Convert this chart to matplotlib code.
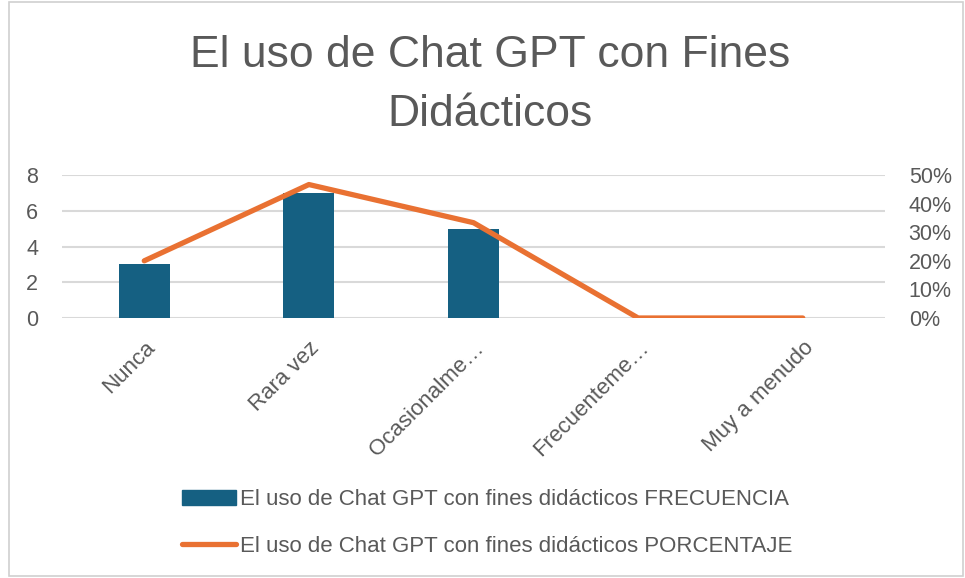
import matplotlib.pyplot as plt
from matplotlib.patches import Rectangle, Patch
from matplotlib.lines import Line2D
from matplotlib.ticker import FuncFormatter, MultipleLocator

plt.rcParams['font.family'] = ['Liberation Sans', 'DejaVu Sans']

# ===== Data =====
categories = ['Nunca', 'Rara vez', 'Ocasionalme…', 'Frecuenteme…', 'Muy a menudo']
frecuencia = [3, 7, 5, 0, 0]
porcentaje = [0.20, 0.4667, 0.3333, 0.0, 0.0]

title = 'El uso de Chat GPT con Fines\nDidácticos'
label_freq = 'El uso de Chat GPT con fines didácticos FRECUENCIA'
label_pct = 'El uso de Chat GPT con fines didácticos PORCENTAJE'

bar_color = '#156082'
line_color = '#E97132'
text_color = '#595959'
grid_color = '#D9D9D9'

fig = plt.figure(figsize=(9.65, 5.78), dpi=100)
fig.patches.append(Rectangle((9 / 965, 2 / 578), 954 / 965, 574 / 578,
                             transform=fig.transFigure, fill=False,
                             edgecolor='#D0D0D0', linewidth=1.2))

ax = fig.add_axes([0.0642, 0.4498, 0.853, 0.2474])
x = list(range(len(categories)))
ax.bar(x, frecuencia, width=0.31, color=bar_color, zorder=2)
ax.set_xlim(-0.5, len(categories) - 0.5)
ax.set_ylim(0, 8)
ax.yaxis.set_major_locator(MultipleLocator(2))
ax.grid(axis='y', color=grid_color, linewidth=1.5, zorder=0)
ax.set_axisbelow(True)
for s in ax.spines.values():
    s.set_visible(False)
ax.tick_params(axis='y', length=0, pad=17, labelsize=15.5, labelcolor=text_color)
ax.tick_params(axis='x', length=0, pad=14, labelsize=16, labelcolor=text_color)
ax.set_xticks(x)
ax.set_xticklabels(categories, rotation=45, ha='right', rotation_mode='anchor')

ax2 = ax.twinx()
ax2.plot(x, porcentaje, color=line_color, linewidth=3.8,
         solid_capstyle='round', zorder=3)
ax2.set_ylim(0, 0.5)
ax2.yaxis.set_major_locator(MultipleLocator(0.1))
ax2.yaxis.set_major_formatter(FuncFormatter(lambda v, p: f'{v * 100:.0f}%'))
for s in ax2.spines.values():
    s.set_visible(False)
ax2.tick_params(axis='y', length=0, pad=17, labelsize=15.5, labelcolor=text_color)

fig.text(0.508, 0.853, title, ha='center', va='center', fontsize=32,
         color=text_color, linespacing=1.55)

# legend
handles = [Patch(color=bar_color, label=label_freq),
           Line2D([0], [0], color=line_color, linewidth=3.8,
                  solid_capstyle='round', label=label_pct)]
fig.legend(handles=handles, loc='center', bbox_to_anchor=(0.505, 0.095),
           ncol=1, frameon=False, fontsize=16, labelcolor=text_color,
           handlelength=2.4, handleheight=0.6, handletextpad=0.2,
           labelspacing=1.15)

plt.savefig('out.png', dpi=100)
